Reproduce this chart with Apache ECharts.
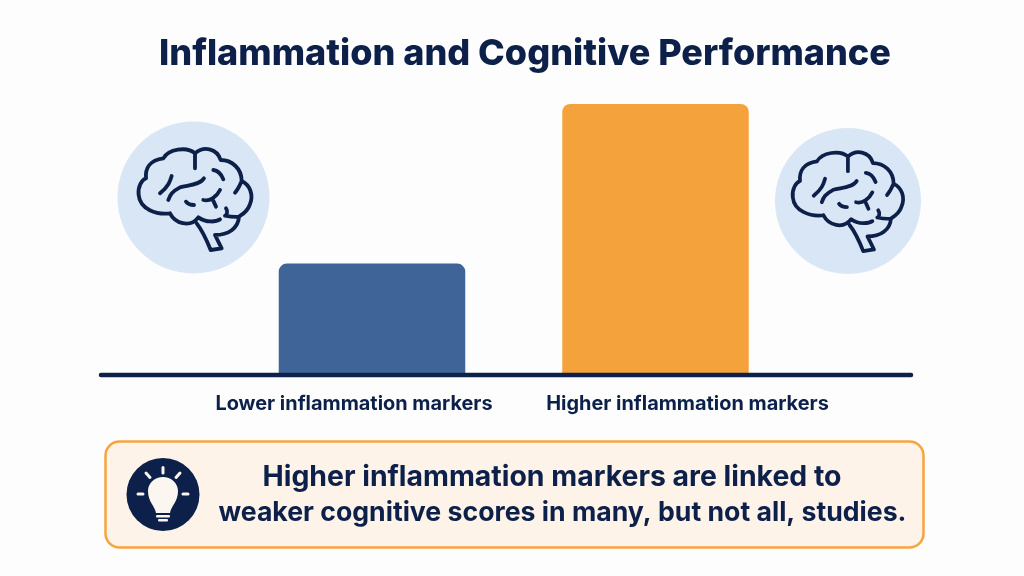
<!DOCTYPE html>
<html><head><meta charset="utf-8">
<style>html,body{margin:0;padding:0;background:#fdfdfd}#c{width:1024px;height:576px}</style>
<script src="https://cdn.jsdelivr.net/npm/echarts@6/dist/echarts.min.js"></script>
</head><body><div id="c"></div>
<script>
var titleText = 'Inflammation and Cognitive Performance';
var categories = ['Lower inflammation markers', 'Higher inflammation markers'];
var values = [41, 100];
var barColors = ['#3f6497', '#f4a33c'];
var calloutLines = ['Higher inflammation markers are linked to', 'weaker cognitive scores in many, but not all, studies.'];

var NAVY = '#0c2049';
var FONT = 'Inter';
var brainPath =
  'M210 340C170 345 120 328 116 285C113 260 125 240 138 235C135 205 150 180 190 175C205 148 260 138 285 160C310 138 350 143 362 180C395 180 425 205 425 243C450 255 462 285 449 315C442 335 425 345 417 350C415 385 385 405 345 405L365 445L332 450C320 420 310 395 290 370' +
  'M210 340C225 370 270 385 295 352C320 370 350 365 360 358' +
  'M285 160L285 205M340 210C355 212 365 225 370 238' +
  'M215 228C210 245 205 260 180 280M205 300C210 285 215 275 240 262C265 255 300 255 312 235' +
  'M258 305C265 315 275 315 282 315M310 300C330 305 350 290 360 270M338 298L348 320' +
  'M425 243C420 255 412 270 405 278M378 325C385 335 380 345 375 347C390 350 405 352 417 350';
var bulbPath = 'M156 513C155 506 148 502 148 491C148 483 155 477 163 477C171 477 178 483 178 491C178 502 171 506 170 513Z';
echarts.graphic.registerShape('brainIcon', echarts.graphic.extendPath(brainPath));
echarts.graphic.registerShape('bulbIcon', echarts.graphic.extendPath(bulbPath));
function brain(x, y, s, w) {
  return {type:'brainIcon', x:x, y:y, scaleX:s, scaleY:s, z:5,
    style:{fill:null, stroke:NAVY, lineWidth:w, lineCap:'round', lineJoin:'round'}};
}
function circle(cx, cy, r, fill, z) {
  return {type:'circle', z:z||3, shape:{cx:cx, cy:cy, r:r}, style:{fill:fill}};
}
function ray(x1, y1, x2, y2) {
  return {type:'line', z:6, shape:{x1:x1,y1:y1,x2:x2,y2:y2}, style:{stroke:'#fbf7f0', lineWidth:3, lineCap:'round'}};
}
var graphics = [
  circle(193.5, 197.5, 76, '#d9e6f5'),
  circle(848, 201, 73, '#d9e6f5'),
  brain(100, 100, 1/3, 11.5),
  brain(755, 104.4, 0.326, 11.5),
  {type:'line', z:4, shape:{x1:101, y1:375, x2:911, y2:375}, style:{stroke:NAVY, lineWidth:4.5, lineCap:'round'}},
  {type:'rect', z:2, shape:{x:105.5, y:441.5, width:818, height:106, r:14}, style:{fill:'#fdf3e8', stroke:'#f6a440', lineWidth:2.5}},
  circle(163, 494.5, 36.5, NAVY, 5),
  {type:'bulbIcon', z:6, style:{fill:'#fbf7f0'}},
  {type:'rect', z:6, shape:{x:156, y:515, width:14, height:2.6, r:1}, style:{fill:'#fbf7f0'}},
  {type:'rect', z:6, shape:{x:158, y:519, width:10, height:2.6, r:1}, style:{fill:'#fbf7f0'}},
  ray(163, 467.5, 163, 473), ray(146, 473, 150, 477.5), ray(180, 473, 176, 477.5),
  ray(138, 494, 143, 494), ray(183, 494, 188, 494),
  {type:'text', z:6, x:552, y:477, style:{text:calloutLines[0], fill:NAVY, font:'700 28.4px '+FONT, textAlign:'center', textVerticalAlign:'middle'}},
  {type:'text', z:6, x:562.5, y:513, style:{text:calloutLines[1], fill:NAVY, font:'700 26.65px '+FONT, textAlign:'center', textVerticalAlign:'middle'}}
];
var chart = echarts.init(document.getElementById('c'), null, {renderer:'canvas'});
chart.setOption({
  backgroundColor:'#fdfdfd',
  animation:false,
  title:{text:titleText, left:154, top:31,
    textStyle:{color:NAVY, fontFamily:FONT, fontWeight:800, fontSize:36}},
  grid:{left:230.25, width:567, top:104, height:270.5},
  xAxis:{type:'category', data:categories,
    axisLine:{show:false}, axisTick:{show:false},
    axisLabel:{margin:20, interval:0, fontFamily:FONT,
      formatter:function(v,i){return '{s'+i+'|'+v+'}';},
      rich:{
        s0:{color:NAVY, fontFamily:FONT, fontWeight:700, fontSize:19.9, padding:[0,36,0,0]},
        s1:{color:NAVY, fontFamily:FONT, fontWeight:700, fontSize:19.9, padding:[0,0,0,64]}
      }}},
  yAxis:{type:'value', min:0, max:100, show:false, splitLine:{show:false}},
  series:[{type:'bar', barWidth:186.5, z:3,
    data:values.map(function(v,i){return {value:v, itemStyle:{color:barColors[i], borderRadius:[8,8,0,0]}};})}],
  graphic:{elements:graphics}
});
</script></body></html>
